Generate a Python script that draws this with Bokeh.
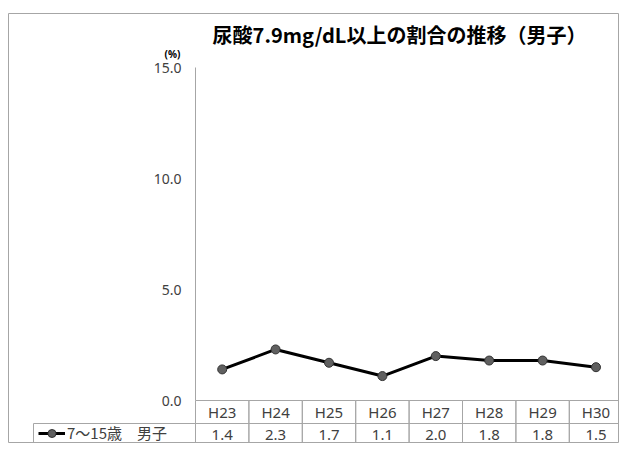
from bokeh.plotting import figure
from bokeh.models import (Range1d, LinearAxis, FixedTicker, PrintfTickFormatter,
                          Label, Legend, LegendItem)
from bokeh.embed import file_html
from bokeh.resources import INLINE

# ---- data ----
categories = ["H23", "H24", "H25", "H26", "H27", "H28", "H29", "H30"]
values = [1.4, 2.3, 1.7, 1.1, 2.0, 1.8, 1.8, 1.5]
series_name = "7～15歳　男子"
y_ticks = [0, 5, 10, 15]
title_text = "尿酸7.9mg/dL以上の割合の推移（男子）"
unit_text = "(%)"

# ---- layout constants (pixels) ----
W, H = 619, 443
BORDER_TOP, BORDER_LEFT = 13, 8
COL_PX = 53.4            # table column width
AXIS_PX = 187.0          # frame px of the y axis line (from frame left)
PX_PER_UNIT = 333.0 / 15.0
ZERO_FROM_TOP = 387.0    # frame px from top to y=0
FRAME_W = W - BORDER_LEFT
FRAME_H = H - BORDER_TOP

x_start = -0.5 - AXIS_PX / COL_PX
x_end = -0.5 + (FRAME_W - AXIS_PX) / COL_PX
y_top = ZERO_FROM_TOP / PX_PER_UNIT
y_bottom = -(FRAME_H - ZERO_FROM_TOP) / PX_PER_UNIT
row_h = 23.0 / PX_PER_UNIT
legend_left = -0.5 - 162.0 / COL_PX

GRID = "#a6a6a6"
TXT = "#404040"
JP = "Noto Sans CJK JP"
NUM = "Noto Sans"

p = figure(width=W, height=H, output_backend="svg", toolbar_location=None,
           x_range=Range1d(x_start, x_end), y_range=Range1d(y_bottom, y_top),
           x_axis_type=None, y_axis_type=None,
           min_border_left=BORDER_LEFT, min_border_right=0,
           min_border_top=BORDER_TOP, min_border_bottom=0)
p.grid.visible = False
p.outline_line_color = GRID
p.outline_line_width = 1
p.background_fill_color = "white"
p.border_fill_color = "white"

xs = list(range(len(categories)))

# ---- y axis inside the frame ----
yaxis = LinearAxis(fixed_location=-0.5, bounds=(0, 15),
                   ticker=FixedTicker(ticks=y_ticks),
                   formatter=PrintfTickFormatter(format="%.1f"))
yaxis.axis_line_color = GRID
yaxis.major_tick_line_color = None
yaxis.minor_tick_line_color = None
yaxis.major_tick_out = 0
yaxis.major_tick_in = 0
yaxis.major_label_standoff = 14
yaxis.major_label_text_font = NUM
yaxis.major_label_text_font_size = "14px"
yaxis.major_label_text_color = TXT
p.add_layout(yaxis, "left")

# ---- data table ----
hdr_y = -row_h / 2
val_y = -row_h * 1.5
p.rect(x=xs, y=[hdr_y] * len(xs), width=1, height=row_h,
       fill_color=None, line_color=GRID, line_width=1)
p.rect(x=xs, y=[val_y] * len(xs), width=1, height=row_h,
       fill_color=None, line_color=GRID, line_width=1)
p.rect(x=[(legend_left - 0.5) / 2], y=[val_y], width=(-0.5 - legend_left),
       height=row_h, fill_color=None, line_color=GRID, line_width=1)
p.text(x=xs, y=[hdr_y] * len(xs), text=categories, text_align="center",
       text_baseline="middle", text_font_size="15px", text_color=TXT,
       text_font={"value": NUM})
p.text(x=xs, y=[val_y] * len(xs), text=[f"{v:.1f}" for v in values],
       text_align="center", text_baseline="middle", text_font_size="15px",
       text_color=TXT, text_font={"value": NUM})

# ---- series ----
line_r = p.line(xs, values, line_color="black", line_width=3)
pts_r = p.scatter(xs, values, size=9, fill_color="#606060",
                  line_color="#333333", line_width=1)

legend = Legend(items=[LegendItem(label=series_name, renderers=[line_r, pts_r])],
                location=(30, 0), orientation="vertical",
                padding=0, margin=0, spacing=0,
                glyph_width=27, glyph_height=20, label_standoff=2,
                label_text_font=JP, label_text_font_size="15px",
                label_text_color=TXT, label_text_baseline="middle",
                border_line_color=None, background_fill_alpha=0)
p.add_layout(legend)

# ---- title and unit ----
p.add_layout(Label(x=-0.5 + 204.0 / COL_PX, y=15 + 33.0 / PX_PER_UNIT,
                   text=title_text, text_align="center", text_baseline="middle",
                   text_font=JP, text_font_size="20px", text_font_style="bold",
                   text_color="black"))
p.add_layout(Label(x=-0.5 - 23.0 / COL_PX, y=15 + 14.0 / PX_PER_UNIT,
                   text=unit_text, text_align="center", text_baseline="middle",
                   text_font=NUM, text_font_size="10px", text_font_style="bold",
                   text_color="black"))

open("out.html", "w").write(file_html(p, INLINE))
